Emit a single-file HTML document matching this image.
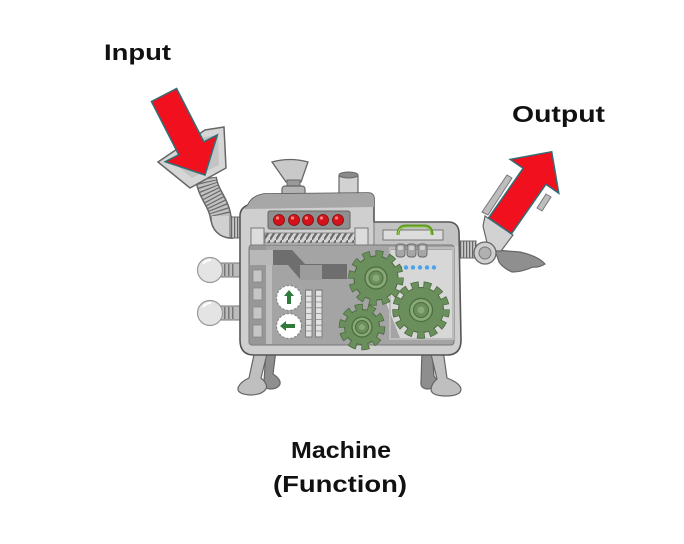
<!DOCTYPE html>
<html>
<head>
<meta charset="utf-8">
<style>
  html,body{margin:0;padding:0;background:#fff;}
  svg{display:block;}
  text{font-family:"Liberation Sans",Arial,sans-serif;font-weight:bold;fill:#111;}
</style>
</head>
<body>
<svg width="684" height="544" viewBox="0 0 684 544" xmlns="http://www.w3.org/2000/svg">
  <defs>
    <pattern id="zig" width="6" height="10" patternUnits="userSpaceOnUse">
      <rect width="6" height="10" fill="#d4d4d4"/>
      <path d="M-1 11 L7 -1" stroke="#6a6a6a" stroke-width="2.2"/>
    </pattern>
  </defs>
  <rect width="684" height="544" fill="#fff"/>

  <!-- Labels -->
  <text x="104" y="60" font-size="22" textLength="67" lengthAdjust="spacingAndGlyphs">Input</text>
  <text x="512" y="122" font-size="23" textLength="93" lengthAdjust="spacingAndGlyphs">Output</text>
  <text x="291" y="458" font-size="23" textLength="100" lengthAdjust="spacingAndGlyphs">Machine</text>
  <text x="273" y="492" font-size="23" textLength="134" lengthAdjust="spacingAndGlyphs">(Function)</text>

  <!-- Legs -->
  <path d="M266 350 L276 350 L273 374 Q281 379 280 384 Q278 389 270 389 Q263 388 264 382 Z" fill="#8e8e8e" stroke="#666" stroke-width="1.2"/>
  <path d="M255 350 L268 350 L261 378 Q268 384 266 389 Q262 395 250 395 Q237 394 238 388 Q240 382 249 378 Z" fill="#bfbfbf" stroke="#666" stroke-width="1.2"/>
  <path d="M422 350 L432 350 L434 376 Q438 381 436 385 Q433 389 427 389 Q420 388 421 382 Z" fill="#8e8e8e" stroke="#666" stroke-width="1.2"/>
  <path d="M430 350 L443 350 L447 378 Q460 383 461 389 Q461 396 446 396 Q431 396 431 389 Q432 383 437 379 Z" fill="#bfbfbf" stroke="#666" stroke-width="1.2"/>

  <!-- Hose -->
  <path d="M206 178 C208 195 220 203 221 220" stroke="#666" stroke-width="22" fill="none"/>
  <path d="M206 178 C208 195 220 203 221 220" stroke="#c2c2c2" stroke-width="19" fill="none"/>
  <path d="M206 178 C208 195 220 203 221 220" stroke="#6a6a6a" stroke-width="19" fill="none" stroke-dasharray="1.2 2.3"/>
  <!-- elbow -->
  <path d="M221 216 Q221 228 233 228" stroke="#666" stroke-width="22" fill="none"/>
  <path d="M221 216 Q221 228 233 228" stroke="#d0d0d0" stroke-width="19" fill="none"/>
  <!-- ribbed connector -->
  <rect x="230" y="217" width="13" height="21" fill="#c8c8c8" stroke="#666" stroke-width="1"/>
  <path d="M231 227.5 L243 227.5" stroke="#666" stroke-width="20" stroke-dasharray="1.2 1.8"/>

  <!-- Funnel -->
  <polygon points="158,162 205,130 224,127 226,168 190,188" fill="#d6d6d6" stroke="#666" stroke-width="1.5"/>
  <polygon points="170,160 205,137 218,135 219,165 192,178" fill="#c4c4c4"/>

  <!-- Input arrow -->
  <polygon points="151.4,101.5 176.6,88.5 203.9,141.8 217.4,134.9 205,175 165.2,161.7 178.7,154.8" fill="#f0101e" stroke="#2f6f78" stroke-width="1.5" stroke-linejoin="miter"/>

  <!-- Left bulbs -->
  <rect x="212" y="263" width="29" height="14" rx="2" fill="#bcbcbc" stroke="#777"/>
  <path d="M216 270 L236 270" stroke="#777" stroke-width="12" stroke-dasharray="1.5 2.5"/>
  <circle cx="210" cy="270" r="12.5" fill="#e4e4e4" stroke="#999" stroke-width="1.2"/>
  <path d="M203 264 Q206 260 211 260" stroke="#fff" stroke-width="2" fill="none"/>
  <rect x="212" y="306" width="29" height="14" rx="2" fill="#bcbcbc" stroke="#777"/>
  <path d="M216 313 L236 313" stroke="#777" stroke-width="12" stroke-dasharray="1.5 2.5"/>
  <circle cx="210" cy="313" r="12.5" fill="#e4e4e4" stroke="#999" stroke-width="1.2"/>
  <path d="M203 307 Q206 303 211 303" stroke="#fff" stroke-width="2" fill="none"/>

  <!-- Right spring connector -->
  <rect x="456" y="241" width="20" height="17" fill="#c8c8c8" stroke="#666"/>
  <path d="M457 249.5 L476 249.5" stroke="#666" stroke-width="16" stroke-dasharray="1.2 1.8"/>

  <!-- Top funnel cap and chimney -->
  <path d="M272 162 Q290 157 308 162 L301 182 L286 182 Z" fill="#c9c9c9" stroke="#666" stroke-width="1.3"/>
  <rect x="287" y="180" width="13" height="8" fill="#999" stroke="#666"/>
  <rect x="282" y="186" width="23" height="14" rx="3" fill="#b3b3b3" stroke="#666" stroke-width="1.2"/>
  <rect x="339" y="174" width="19" height="26" rx="2" fill="#d2d2d2" stroke="#666" stroke-width="1.2"/>
  <ellipse cx="348.5" cy="175" rx="9.5" ry="3" fill="#8a8a8a" stroke="#666"/>

  <!-- Body -->
  <path d="M248 205 Q252 196 264 194 L368 193 Q374 193 374 199 L374 222 L448 222 Q458 222 459 232 L461 340 Q461 355 447 355 L254 355 Q240 355 240 340 L240 216 Q240 208 248 205 Z" fill="#cfcfcf" stroke="#555" stroke-width="1.6"/>
  <!-- roof -->
  <path d="M248 205 Q252 196 264 194 L368 193 Q374 193 374 199 L374 207 L244 209 Z" fill="#a7a7a7"/>
  <!-- right section top band -->
  <path d="M375 223 L448 223 Q457 223 458 232 L458 246 L375 246 Z" fill="#c3c3c3"/>
  <rect x="383" y="230" width="60" height="10" fill="#dcdcdc" stroke="#777"/>
  <path d="M398 235 Q398 226 406 226 L424 226 Q432 226 432 235" stroke="#5e9a24" stroke-width="3" fill="none"/>
  <path d="M398 235 Q398 227 406 227 L424 227 Q431 227 431 235" stroke="#9acd50" stroke-width="1" fill="none"/>
  <line x1="374" y1="222" x2="374" y2="246" stroke="#777" stroke-width="1"/>

  <!-- red lights panel -->
  <rect x="268" y="211" width="82" height="18" rx="2" fill="#8f8f8f" stroke="#666"/>
  <circle cx="279" cy="220" r="5.5" fill="#d5121a" stroke="#7a1010" stroke-width="0.8"/>
  <circle cx="294" cy="220" r="5.5" fill="#d5121a" stroke="#7a1010" stroke-width="0.8"/>
  <circle cx="308" cy="220" r="5.5" fill="#d5121a" stroke="#7a1010" stroke-width="0.8"/>
  <circle cx="323" cy="220" r="5.5" fill="#d5121a" stroke="#7a1010" stroke-width="0.8"/>
  <circle cx="338" cy="220" r="5.5" fill="#d5121a" stroke="#7a1010" stroke-width="0.8"/>
  <circle cx="277.5" cy="218" r="1.6" fill="#ff8080"/>
  <circle cx="292.5" cy="218" r="1.6" fill="#ff8080"/>
  <circle cx="306.5" cy="218" r="1.6" fill="#ff8080"/>
  <circle cx="321.5" cy="218" r="1.6" fill="#ff8080"/>
  <circle cx="336.5" cy="218" r="1.6" fill="#ff8080"/>

  <!-- zigzag -->
  <rect x="265" y="233" width="90" height="10" fill="url(#zig)" stroke="#777" stroke-width="0.8"/>
  <rect x="251" y="228" width="13" height="17" fill="#dcdcdc" stroke="#777"/>
  <rect x="355" y="228" width="13" height="17" fill="#dcdcdc" stroke="#777"/>

  <!-- inner panel -->
  <rect x="249" y="245" width="205" height="100" rx="3" fill="#a4a4a4" stroke="#777" stroke-width="1"/>
  <rect x="250" y="246" width="16" height="98" fill="#979797"/>
  <rect x="266" y="265" width="6" height="79" fill="#bdbdbd"/>
  <rect x="253" y="270" width="9" height="12" fill="#c6c6c6" stroke="#888" stroke-width="0.8"/>
  <rect x="253" y="288" width="9" height="12" fill="#c6c6c6" stroke="#888" stroke-width="0.8"/>
  <rect x="253" y="307" width="9" height="12" fill="#c6c6c6" stroke="#888" stroke-width="0.8"/>
  <rect x="253" y="325" width="9" height="12" fill="#c6c6c6" stroke="#888" stroke-width="0.8"/>

  <!-- duct -->
  <rect x="250" y="250" width="23" height="15" fill="#b8b8b8"/>
  <polygon points="273,250 292,250 305,264 347,264 347,279 322,279 300,279 288,265 273,265" fill="#6e6e6e"/>
  <rect x="300" y="265" width="22" height="15" fill="#9c9c9c"/>

  <!-- right light region -->
  <path d="M390 250 L452 250 L452 338 L430 338 L400 338 L385 300 L392 285 Z" fill="#d7d7d7"/>
  <rect x="390" y="248" width="63" height="91" fill="none" stroke="#bcbcbc" stroke-width="2"/>

  <!-- knobs -->
  <rect x="396" y="244" width="9" height="13" rx="3" fill="#a6a6a6" stroke="#666" stroke-width="0.9"/>
  <rect x="407" y="244" width="9" height="13" rx="3" fill="#a6a6a6" stroke="#666" stroke-width="0.9"/>
  <rect x="418" y="244" width="9" height="13" rx="3" fill="#a6a6a6" stroke="#666" stroke-width="0.9"/>
  <rect x="398" y="246" width="5" height="4" rx="1.5" fill="#d0d0d0"/>
  <rect x="409" y="246" width="5" height="4" rx="1.5" fill="#d0d0d0"/>
  <rect x="420" y="246" width="5" height="4" rx="1.5" fill="#d0d0d0"/>

  <!-- blue dots -->
  <rect x="396" y="266" width="6" height="2.5" fill="#4aa3ea"/>
  <circle cx="406" cy="267.5" r="2.2" fill="#4aa3ea"/>
  <circle cx="413" cy="267.5" r="2.2" fill="#4aa3ea"/>
  <circle cx="420" cy="267.5" r="2.2" fill="#4aa3ea"/>
  <circle cx="427" cy="267.5" r="2.2" fill="#4aa3ea"/>
  <circle cx="434" cy="267.5" r="2.2" fill="#4aa3ea"/>

  <!-- gauges -->
  <circle cx="289" cy="298" r="12.5" fill="#fff" stroke="#888" stroke-width="1.2" stroke-dasharray="2.5 1.5"/>
  <polygon points="289,290 284,296 287,296 287,304 291,304 291,296 294,296" fill="#2f7a3c"/>
  <circle cx="289" cy="326" r="12.5" fill="#fff" stroke="#888" stroke-width="1.2" stroke-dasharray="2.5 1.5"/>
  <polygon points="280,326 286,321 286,324 295,324 295,328 286,328 286,331" fill="#2f7a3c"/>

  <!-- ladder strips -->
  <rect x="305.5" y="290" width="6.5" height="47" fill="#e2e2e2" stroke="#777" stroke-width="0.9"/>
  <path d="M308.75 290 L308.75 337" stroke="#888" stroke-width="6.5" stroke-dasharray="0.8 5"/>
  <rect x="315.5" y="290" width="6.5" height="47" fill="#e2e2e2" stroke="#777" stroke-width="0.9"/>
  <path d="M318.75 290 L318.75 337" stroke="#888" stroke-width="6.5" stroke-dasharray="0.8 5"/>

  <!-- Gear 1 -->
  <g>
    <circle cx="376" cy="278" r="22.5" fill="#4a6b3e"/>
    <circle cx="376" cy="278" r="24" fill="none" stroke="#4a6b3e" stroke-width="7.5" stroke-dasharray="7.5 5.07" stroke-dashoffset="0.75"/>
    <circle cx="376" cy="278" r="24" fill="none" stroke="#6b8f5c" stroke-width="6" stroke-dasharray="6 6.57"/>
    <circle cx="376" cy="278" r="21.5" fill="#6b8f5c"/>
    <circle cx="376" cy="278" r="11" fill="#88a877" stroke="#4a6b3e" stroke-width="1.2"/>
    <circle cx="376" cy="278" r="7" fill="#6b8f5c" stroke="#4a6b3e" stroke-width="1"/>
    <circle cx="376" cy="278" r="3.5" fill="#88a877"/>
  </g>
  <!-- Gear 2 -->
  <g>
    <circle cx="421" cy="310" r="23" fill="#4a6b3e"/>
    <circle cx="421" cy="310" r="25" fill="none" stroke="#4a6b3e" stroke-width="7.5" stroke-dasharray="7.5 4.58" stroke-dashoffset="0.75"/>
    <circle cx="421" cy="310" r="25" fill="none" stroke="#6b8f5c" stroke-width="6" stroke-dasharray="6 6.08"/>
    <circle cx="421" cy="310" r="22" fill="#6b8f5c"/>
    <circle cx="421" cy="310" r="11.5" fill="#88a877" stroke="#4a6b3e" stroke-width="1.2"/>
    <circle cx="421" cy="310" r="7.5" fill="#6b8f5c" stroke="#4a6b3e" stroke-width="1"/>
    <circle cx="421" cy="310" r="3.5" fill="#88a877"/>
  </g>
  <!-- Gear 3 -->
  <g>
    <circle cx="362" cy="327" r="18" fill="#4a6b3e"/>
    <circle cx="362" cy="327" r="19.5" fill="none" stroke="#4a6b3e" stroke-width="7.5" stroke-dasharray="7.5 4.75" stroke-dashoffset="0.75"/>
    <circle cx="362" cy="327" r="19.5" fill="none" stroke="#6b8f5c" stroke-width="6" stroke-dasharray="6 6.25"/>
    <circle cx="362" cy="327" r="17" fill="#6b8f5c"/>
    <circle cx="362" cy="327" r="10" fill="#88a877" stroke="#4a6b3e" stroke-width="1.2"/>
    <circle cx="362" cy="327" r="6.5" fill="#6b8f5c" stroke="#4a6b3e" stroke-width="1"/>
    <circle cx="362" cy="327" r="3" fill="#88a877"/>
  </g>

  <!-- Output claw -->
  <path d="M495 250 L520 252 Q538 256 545 264 Q538 268 533 267 Q522 272 512 272 Q503 268 499 262 Z" fill="#8f8f8f" stroke="#666" stroke-width="1.2"/>
  <polygon points="485,216 513,235 501,251 489,251 483,226" fill="#d2d2d2" stroke="#666" stroke-width="1.2"/>
  <polygon points="482,212 507,175 512,178 488,215" fill="#bdbdbd" stroke="#777" stroke-width="1"/>
  <polygon points="537,208 546,194 551,197 542,211" fill="#bdbdbd" stroke="#777" stroke-width="1"/>
  <circle cx="485" cy="253" r="11" fill="#cfcfcf" stroke="#666" stroke-width="1.3"/>
  <circle cx="485" cy="253" r="6" fill="#b0b0b0" stroke="#777" stroke-width="1"/>

  <!-- Output arrow -->
  <polygon points="488.6,217.8 523.1,168.3 510.2,159.4 551.7,151.7 558.8,193.2 545.9,184.3 511.4,233.8" fill="#f0101e" stroke="#2f6f78" stroke-width="1.5"/>
</svg>
</body>
</html>
